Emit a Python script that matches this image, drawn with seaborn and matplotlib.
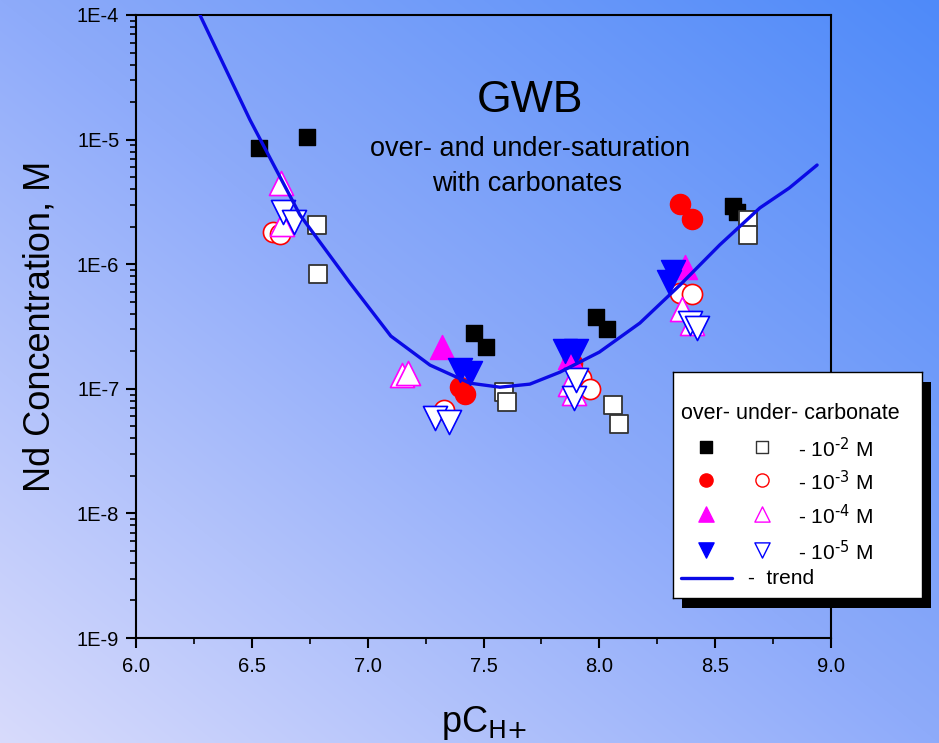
import numpy as np
import pandas as pd
import matplotlib
matplotlib.use("Agg")
import matplotlib.pyplot as plt
from matplotlib.patches import Rectangle
from matplotlib.ticker import LogLocator, FuncFormatter, MultipleLocator, NullFormatter
import seaborn as sns

sns.set_theme(style="ticks")
plt.rcParams["font.family"] = ["Liberation Sans", "DejaVu Sans"]
plt.rcParams["mathtext.default"] = "regular"
plt.rcParams["text.color"] = "black"
plt.rcParams["axes.labelcolor"] = "black"

# ---- measured Nd solubility, grouped by carbonate level and approach direction ----
over_2_x = [6.53, 6.74, 7.46, 7.51, 7.985, 8.035, 8.575, 8.595]
over_2_y = [8.6e-6, 1.05e-5, 2.8e-7, 2.15e-7, 3.8e-7, 3.0e-7, 2.95e-6, 2.6e-6]
under_2_x = [6.78, 6.785, 7.59, 7.60, 8.06, 8.085, 8.64, 8.64]
under_2_y = [2.05e-6, 8.4e-7, 9.4e-8, 7.8e-8, 7.4e-8, 5.2e-8, 2.26e-6, 1.7e-6]

over_3_x = [7.40, 7.42, 7.88, 8.35, 8.40]
over_3_y = [1.03e-7, 9.1e-8, 1.6e-7, 3.05e-6, 2.3e-6]
under_3_x = [6.59, 6.62, 7.33, 7.92, 7.96, 8.35, 8.40]
under_3_y = [1.8e-6, 1.75e-6, 6.8e-8, 1.22e-7, 1.0e-7, 5.9e-7, 5.8e-7]

over_4_x = [7.32, 7.875, 8.37]
over_4_y = [2.15e-7, 1.8e-7, 9.5e-7]
under_4_x = [6.625, 6.63, 7.15, 7.175, 7.875, 7.89, 8.355, 8.40]
under_4_y = [4.5e-6, 2.1e-6, 1.28e-7, 1.34e-7, 1.1e-7, 9.3e-8, 4.4e-7, 3.4e-7]

over_5_x = [7.40, 7.44, 7.85, 7.90, 8.30, 8.32]
over_5_y = [1.42e-7, 1.34e-7, 2.0e-7, 2.0e-7, 7.2e-7, 8.6e-7]
under_5_x = [6.635, 6.68, 7.29, 7.35, 7.89, 7.90, 8.39, 8.42]
under_5_y = [2.6e-6, 2.2e-6, 5.8e-8, 5.4e-8, 8.4e-8, 1.18e-7, 3.4e-7, 3.1e-7]

# ---- model trend ----
trend_x = [6.276, 6.492, 6.708, 6.924, 7.10, 7.269, 7.441, 7.571, 7.70, 7.83,
           8.00, 8.175, 8.348, 8.52, 8.693, 8.82, 8.94]
trend_y = [1.0e-4, 1.44e-5, 2.48e-6, 7.06e-7, 2.65e-7, 1.55e-7, 1.11e-7, 1.03e-7,
           1.09e-7, 1.36e-7, 1.97e-7, 3.37e-7, 6.8e-7, 1.43e-6, 2.83e-6, 4.09e-6, 6.25e-6]

carbonate_labels = ["-2", "-3", "-4", "-5"]
y_ticks = [1e-9, 1e-8, 1e-7, 1e-6, 1e-5, 1e-4]
x_ticks = [6.0, 6.5, 7.0, 7.5, 8.0, 8.5, 9.0]

W, H = 939, 743
fig = plt.figure(figsize=(W / 100, H / 100), dpi=100)

# diagonal gradient backdrop
bg = fig.add_axes([0, 0, 1, 1], zorder=-10)
xn = np.linspace(0, 1, W)[None, :]
yn = np.linspace(1, 0, H)[:, None]
t = (xn + yn) / 2.0
c0 = np.array([216, 219, 252]) / 255.0
c1 = np.array([142, 171, 250]) / 255.0
c2 = np.array([78, 138, 249]) / 255.0
t3 = t[..., None]
img = np.where(t3 < 0.5, c0 + (c1 - c0) * (t3 / 0.5), c1 + (c2 - c1) * ((t3 - 0.5) / 0.5))
bg.imshow(img, aspect="auto", extent=[0, 1, 0, 1])
bg.set_axis_off()

ax = fig.add_axes([136 / W, 1 - 638 / H, (831 - 136) / W, (638 - 15) / H])
ax.set_facecolor("none")

groups = [
    (over_2_x, over_2_y, "s", 130, "black", "black", 1.0),
    (under_2_x, under_2_y, "s", 160, "white", "#333333", 1.3),
    (under_3_x, under_3_y, "o", 210, "white", "red", 1.2),
    (over_3_x, over_3_y, "o", 210, "red", "red", 1.0),
    (over_4_x, over_4_y, "^", 300, "magenta", "magenta", 1.0),
    (under_4_x, under_4_y, "^", 300, "white", "magenta", 1.2),
    (over_5_x, over_5_y, "v", 300, "blue", "blue", 1.0),
    (under_5_x, under_5_y, "v", 300, "white", "blue", 1.2),
]
for gx, gy, mk, sz, fc, ec, lw in groups:
    df = pd.DataFrame({"pCH": gx, "Nd": gy})
    sns.scatterplot(data=df, x="pCH", y="Nd", marker=mk, s=sz, color=fc,
                    edgecolor=ec, linewidth=lw, ax=ax, zorder=3, legend=False)

tdf = pd.DataFrame({"pCH": trend_x, "Nd": trend_y})
sns.lineplot(data=tdf, x="pCH", y="Nd", sort=False, color="#0a0ae6", lw=2.4,
             ax=ax, zorder=4, legend=False)

ax.set_yscale("log")
ax.set_xlim(6.0, 9.0)
ax.set_ylim(1e-9, 1e-4)
ax.set_xticks(x_ticks)
ax.set_xticklabels([f"{v:.1f}" for v in x_ticks])
ax.xaxis.set_minor_locator(MultipleLocator(0.25))
ax.set_yticks(y_ticks)
ax.yaxis.set_major_formatter(FuncFormatter(lambda v, p: f"1E{int(round(np.log10(v)))}"))
ax.yaxis.set_minor_locator(LogLocator(base=10, subs=np.arange(2, 10)))
ax.yaxis.set_minor_formatter(NullFormatter())
ax.tick_params(which="major", direction="out", length=7, width=1.5, color="black",
               labelsize=14.5, labelcolor="black", top=False, right=False)
ax.tick_params(which="minor", direction="out", length=4, width=1.2, color="black",
               top=False, right=False)
ax.tick_params(axis="x", which="major", pad=7)
ax.tick_params(axis="y", which="major", pad=5)
for sp in ax.spines.values():
    sp.set_visible(True)
    sp.set_color("black")
    sp.set_linewidth(1.5)

ax.set_xlabel(r"pC$_{\text{H+}}$", fontsize=26, labelpad=20)
ax.set_ylabel("Nd Concentration, M", fontsize=26, labelpad=14)

ax.text(0.567, 0.862, "GWB", transform=ax.transAxes, ha="center", va="center", fontsize=32)
ax.text(0.567, 0.785, "over- and under-saturation", transform=ax.transAxes,
        ha="center", va="center", fontsize=19.5)
ax.text(0.563, 0.728, "with carbonates", transform=ax.transAxes,
        ha="center", va="center", fontsize=19.5)

# legend panel with drop shadow
lx0, ly0, lx1, ly1 = 673, 372, 922, 598
fig.patches.append(Rectangle(((lx0 + 9) / W, 1 - (ly1 + 10) / H), (lx1 - lx0) / W,
                             (ly1 - ly0) / H, transform=fig.transFigure,
                             facecolor="black", edgecolor="none", zorder=5))
lg = fig.add_axes([lx0 / W, 1 - ly1 / H, (lx1 - lx0) / W, (ly1 - ly0) / H], zorder=6)
lg.set_facecolor("white")
lg.set_xlim(lx0, lx1)
lg.set_ylim(ly1, ly0)
lg.set_xticks([])
lg.set_yticks([])
for sp in lg.spines.values():
    sp.set_visible(True)
    sp.set_color("black")
    sp.set_linewidth(1.0)

lg.text(681, 413, "over- under- carbonate", ha="left", va="center", fontsize=15.5)
row_y = [447, 480, 514, 550]
key_styles = [
    ("s", 70, "black", "black", "white", "#333333"),
    ("o", 90, "red", "red", "white", "red"),
    ("^", 120, "magenta", "magenta", "white", "magenta"),
    ("v", 120, "blue", "blue", "white", "blue"),
]
for yy, lab, (mk, sz, fc1, ec1, fc2, ec2) in zip(row_y, carbonate_labels, key_styles):
    lg.scatter([706], [yy], marker=mk, s=sz, c=fc1, edgecolors=ec1, linewidths=1.0)
    lg.scatter([762], [yy], marker=mk, s=sz, c=fc2, edgecolors=ec2, linewidths=1.0)
    lg.text(798, yy + 2, r"- 10$^{\text{" + lab + r"}}$ M", ha="left", va="center",
            fontsize=15)
lg.plot([681, 732], [578, 578], color="#0a0ae6", lw=2.4)
lg.text(748, 578, "-  trend", ha="left", va="center", fontsize=15)

fig.savefig("out.png", dpi=100)
